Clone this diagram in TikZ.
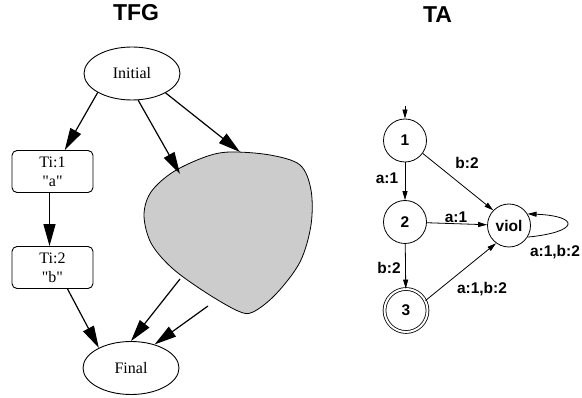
\documentclass[tikz,border=0pt]{standalone}
\usepackage{fontspec}
\setmainfont{Liberation Serif}[Ligatures=TeXOff]
\newfontfamily\labelfont{Liberation Sans}
\usetikzlibrary{arrows.meta,shapes.geometric}
\begin{document}
\begin{tikzpicture}[x=1pt,y=-1pt,
  title/.style={font=\labelfont\bfseries\fontsize{23}{26}\selectfont,inner sep=0pt},
  tfgtext/.style={font=\fontsize{16}{19}\selectfont},
  oval/.style={ellipse,draw,line width=0.9pt,minimum width=96pt,minimum height=53pt,inner sep=0pt,tfgtext},
  taskbox/.style={draw,rounded corners=5pt,line width=0.9pt,minimum width=81pt,minimum height=42pt,align=center,inner sep=0pt,tfgtext},
  flow/.style={line width=1.2pt,-{Triangle[length=22pt,width=12pt]}},
  tastate/.style={circle,draw,line width=0.8pt,minimum size=43pt,inner sep=0pt,font=\labelfont\bfseries\fontsize{15.5}{18}\selectfont},
  trans/.style={line width=0.8pt,-{Triangle[length=9pt,width=5pt]}},
  tlabel/.style={font=\labelfont\bfseries\fontsize{15.5}{18}\selectfont,inner sep=0pt}
]
\useasboundingbox (0,0) rectangle (582,398);

% ---- task flow graph ----
\node[title] (tfg) at (136,12.5) {TFG};
\node[oval] (init) at (132,73.5) {Initial};
\node[oval] (final) at (131,368) {Final};
\node[taskbox] (ti1) at (52.5,171.5) {Ti:1\\"a"};
\node[taskbox] (ti2) at (52.5,267.5) {Ti:2\\"b"};

% unexpanded sub-graph
\filldraw[fill=gray!40,line width=0.8pt]
  plot[smooth cycle,tension=0.55] coordinates {
    (144,215) (151,192) (173,172) (205,157) (230,152) (270,155)
    (300,165) (311,190) (311,225) (300,262) (276,294) (253,312)
    (238,311) (205,292) (172,268) (151,243)};
\coordinate (blobA) at (180,174);
\coordinate (blobB) at (240,152);
\coordinate (blobC) at (180,279);
\coordinate (blobD) at (208,306);

\draw[flow] (init.-151) -- (ti1);
\draw[flow] (init.-77) -- (blobA);
\draw[flow] (init.-30) -- (blobB);
\draw[flow] ([xshift=-3pt]ti1.south) -- ([xshift=-3pt]ti2.north);
\draw[flow] (ti2.-55) -- (final.148);
\draw[flow] (blobC) -- (final.north);
\draw[flow] (blobD) -- (final.45);

% ---- test automaton ----
\node[title] (ta) at (437.5,14.5) {TA};
\node[tastate] (n1) at (405,140.5) {1};
\node[tastate] (n2) at (405,222) {2};
\node[tastate,double,double distance=2pt] (n3) at (406,310.5) {3};
\node[tastate] (viol) at (509,225.5) {viol};
\coordinate (entry) at (405,106);

\draw[trans] (entry) -- (n1);
\draw[trans] (n1) -- (n2);
\draw[trans] (n2) -- (n3);
\draw[trans] (n1.-36) -- (viol.136);
\draw[trans] (n2) -- (viol);
\draw[trans] (n3.27) -- (viol.234);
\draw[trans] (viol.-32) .. controls (580,232) and (580,216) .. (viol.32);

\node[tlabel] (l12) at (387,178) {a:1};
\node[tlabel] (l1v) at (467,163) {b:2};
\node[tlabel] (l2v) at (456,217.5) {a:1};
\node[tlabel] (l23) at (389,268) {b:2};
\node[tlabel] (l3v) at (482,289) {a:1,b:2};
\node[tlabel] (lvv) at (555,252.5) {a:1,b:2};
\end{tikzpicture}
\end{document}
